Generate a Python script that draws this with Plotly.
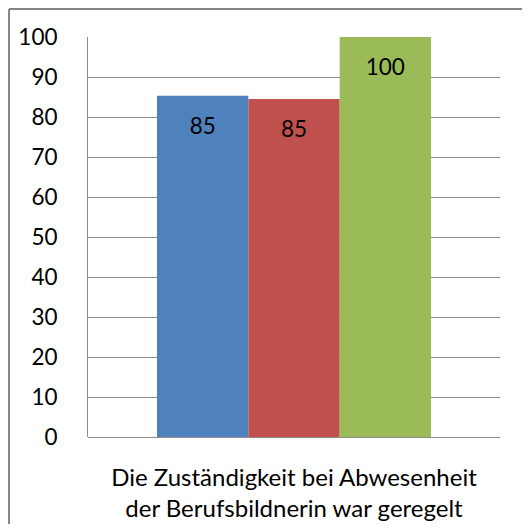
import plotly.graph_objects as go

category = ["Die Zuständigkeit bei Abwesenheit<br>der Berufsbildnerin war geregelt"]
series_names = ["Reihe 1", "Reihe 2", "Reihe 3"]
series_values = [85.3, 84.5, 100]
series_labels = ["85", "85", "100"]
colors = ["#4F81BD", "#C0504D", "#9BBB59"]

y_ticks = list(range(0, 101, 10))

FONT = "Lato"
SIZE = 22.5

# small blank first line pushes the value label down from the bar top
LABEL_PAD = "<span style='font-size:6px'>&nbsp;</span><br>"

fig = go.Figure()
for name, value, label, color in zip(series_names, series_values, series_labels, colors):
    fig.add_trace(
        go.Bar(
            x=category,
            y=[value],
            name=name,
            marker=dict(color=color, line=dict(width=0)),
            text=[LABEL_PAD + label],
            textposition="inside",
            insidetextanchor="end",
            textfont=dict(family=FONT, size=SIZE, color="black"),
        )
    )

# page body has an 8px margin, so the figure starts at (8, 8) on screen;
# keep it inside the window so no scrollbars show up
border = dict(type="line", xref="paper", yref="paper",
              line=dict(color="#868686", width=2), layer="below")

fig.update_layout(
    width=514,
    height=516,
    margin=dict(l=80, r=22, t=29, b=87),
    paper_bgcolor="white",
    plot_bgcolor="white",
    barmode="group",
    bargap=0.335,
    bargroupgap=0,
    showlegend=False,
    font=dict(family=FONT, size=SIZE, color="black"),
    xaxis=dict(
        automargin=False,
        showgrid=False,
        showline=False,
        ticks="",
        ticklabelstandoff=24,
        tickfont=dict(family=FONT, size=24),
    ),
    yaxis=dict(
        automargin=False,
        range=[0, 100],
        tickvals=y_ticks,
        showgrid=True,
        gridcolor="#8C8C8C",
        gridwidth=1,
        showline=True,
        linecolor="#8C8C8C",
        linewidth=1,
        zeroline=True,
        zerolinecolor="#8C8C8C",
        zerolinewidth=1,
        ticks="",
        ticklabelstandoff=25,
        tickfont=dict(family=FONT, size=SIZE),
    ),
    shapes=[
        dict(border, x0=-0.1917, x1=-0.1917, y0=-0.5, y1=1.07),
        dict(border, x0=-0.1917, x1=1.3, y0=1.07, y1=1.07),
    ],
)

fig.write_html("out.html")
